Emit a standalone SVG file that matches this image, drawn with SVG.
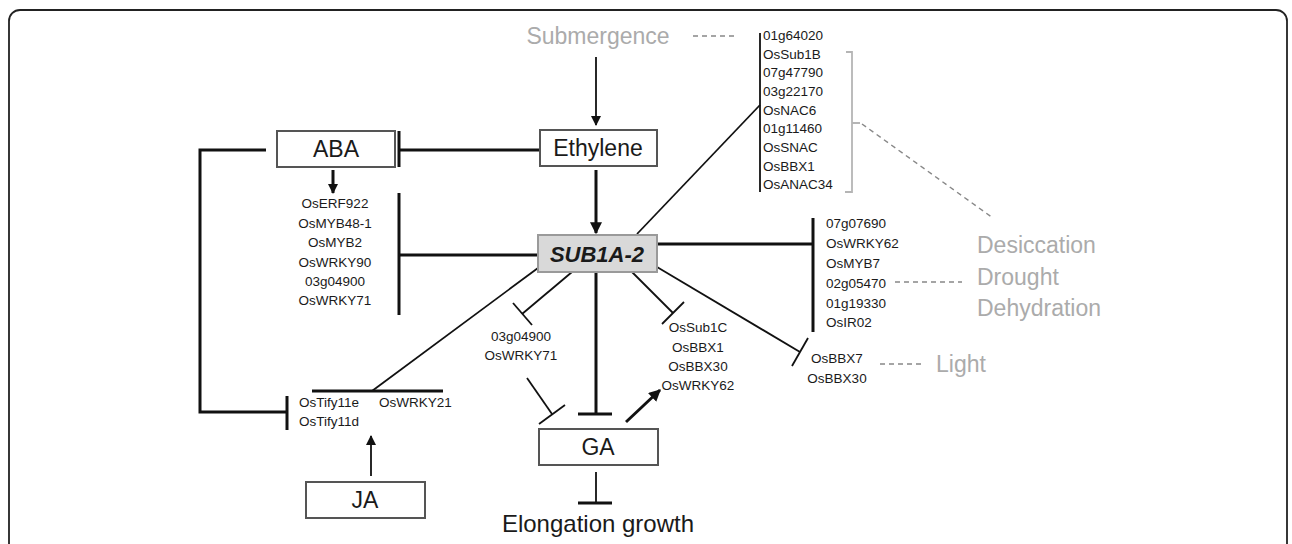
<svg xmlns="http://www.w3.org/2000/svg" width="1292" height="544" viewBox="0 0 1292 544">
<defs>
<style>
text{font-family:"Liberation Sans",Arial,sans-serif;fill:#1a1a1a}
.big{font-size:23px}
.gene{font-size:13.5px}
.grey{fill:#ababab;font-size:23px}
.box{fill:#fff;stroke:#555;stroke-width:2}
.thick{stroke:#111;stroke-width:3;fill:none}
.thin{stroke:#111;stroke-width:1.8;fill:none}
.dash{stroke:#888;stroke-width:1.4;stroke-dasharray:5 4;fill:none}
.br{stroke:#b5b5b5;stroke-width:1.8;fill:none}
</style>
<marker id="ah" viewBox="0 0 10 10" refX="9" refY="5" markerWidth="10" markerHeight="10" markerUnits="userSpaceOnUse" orient="auto">
<path d="M0 0 L10 5 L0 10 Z" fill="#111"/>
</marker>
<marker id="ah2" viewBox="0 0 10 10" refX="9" refY="5" markerWidth="12" markerHeight="12" markerUnits="userSpaceOnUse" orient="auto">
<path d="M0 0 L10 5 L0 10 Z" fill="#111"/>
</marker>
</defs>
<rect x="9" y="10" width="1278" height="580" rx="11" fill="#fff" stroke="#222" stroke-width="1.8"/>

<g id="connectors">
<line class="thin" x1="596" y1="57" x2="596" y2="125" marker-end="url(#ah)"/>
<line class="thick" x1="596" y1="170" x2="596" y2="233" marker-end="url(#ah2)"/>
<line class="thick" x1="540" y1="150" x2="400" y2="150"/>
<line class="thick" x1="399" y1="131" x2="399" y2="167"/>
<path class="thick" d="M266 150 H200 V412 H287"/>
<line class="thick" x1="287" y1="396" x2="287" y2="430"/>
<line class="thick" x1="333" y1="170" x2="333" y2="193" marker-end="url(#ah)"/>
<line class="thick" x1="399" y1="193" x2="399" y2="315"/>
<line class="thick" x1="399" y1="255" x2="538" y2="255"/>
<line class="thick" x1="657" y1="244" x2="813" y2="244"/>
<line class="thick" x1="813" y1="218" x2="813" y2="332"/>
<line class="thin" x1="637" y1="234" x2="760" y2="105"/>
<line class="thin" x1="760" y1="33" x2="760" y2="192"/>
<path class="br" d="M846 52 H852 V192 H845 M852 123 H860"/>
<line class="dash" x1="862" y1="124" x2="993" y2="218"/>
<line class="dash" x1="693" y1="36" x2="738" y2="36"/>
<line class="dash" x1="895" y1="282" x2="962" y2="282"/>
<line class="dash" x1="880" y1="364" x2="925" y2="364"/>
<line class="thin" x1="657" y1="267" x2="800" y2="352"/>
<line class="thin" x1="808" y1="338" x2="792" y2="366"/>
<line class="thin" x1="632" y1="272" x2="673" y2="313"/>
<line class="thin" x1="684" y1="302" x2="662" y2="324"/>
<line class="thin" x1="572" y1="272" x2="522" y2="314"/>
<line class="thin" x1="532" y1="325" x2="513" y2="303"/>
<line class="thin" x1="527" y1="378" x2="552" y2="414"/>
<line class="thin" x1="565" y1="405" x2="539" y2="424"/>
<line class="thick" x1="596" y1="272" x2="596" y2="414"/>
<line class="thick" x1="578" y1="414" x2="612" y2="414"/>
<line class="thick" x1="626" y1="422" x2="660" y2="390" marker-end="url(#ah2)"/>
<line class="thin" x1="596" y1="472" x2="596" y2="503"/>
<line class="thick" x1="578" y1="503" x2="612" y2="503"/>
<line class="thin" x1="538" y1="268" x2="372" y2="391"/>
<line class="thick" x1="312" y1="391" x2="443" y2="391"/>
<line class="thin" x1="371" y1="476" x2="371" y2="436" marker-end="url(#ah)"/>
</g>

<g id="submergence"><text class="grey" x="598" y="44" text-anchor="middle">Submergence</text></g>
<g id="ethylene"><rect class="box" x="540" y="130" width="117" height="36"/><text class="big" x="598" y="156" text-anchor="middle">Ethylene</text></g>
<g id="aba"><rect class="box" x="277" y="131" width="118" height="36"/><text class="big" x="336" y="157" text-anchor="middle">ABA</text></g>
<g id="sub1a"><rect x="538" y="235" width="119" height="37" fill="#d9d9d9" stroke="#9a9a9a" stroke-width="2"/><text x="597" y="262" text-anchor="middle" font-size="22" font-weight="bold" font-style="italic">SUB1A-2</text></g>
<g id="ga"><rect class="box" x="539" y="429" width="119" height="36"/><text class="big" x="598" y="455" text-anchor="middle">GA</text></g>
<g id="ja"><rect class="box" x="306" y="482" width="119" height="36"/><text class="big" x="365" y="508" text-anchor="middle">JA</text></g>
<g id="elongation"><text x="598" y="532" text-anchor="middle" font-size="24">Elongation growth</text></g>

<g id="top-genes" class="gene">
<text class="gene" x="763" y="40">01g64020</text>
<text class="gene" x="763" y="58.7">OsSub1B</text>
<text class="gene" x="763" y="77.4">07g47790</text>
<text class="gene" x="763" y="96">03g22170</text>
<text class="gene" x="763" y="114.7">OsNAC6</text>
<text class="gene" x="763" y="133.4">01g11460</text>
<text class="gene" x="763" y="152">OsSNAC</text>
<text class="gene" x="763" y="170.7">OsBBX1</text>
<text class="gene" x="763" y="189.4">OsANAC34</text>
</g>
<g id="aba-genes">
<text class="gene" x="335" y="208" text-anchor="middle">OsERF922</text>
<text class="gene" x="335" y="228" text-anchor="middle">OsMYB48-1</text>
<text class="gene" x="335" y="247" text-anchor="middle">OsMYB2</text>
<text class="gene" x="335" y="267" text-anchor="middle">OsWRKY90</text>
<text class="gene" x="335" y="286" text-anchor="middle">03g04900</text>
<text class="gene" x="335" y="305" text-anchor="middle">OsWRKY71</text>
</g>
<g id="right-genes">
<text class="gene" x="826" y="228">07g07690</text>
<text class="gene" x="826" y="248">OsWRKY62</text>
<text class="gene" x="826" y="268">OsMYB7</text>
<text class="gene" x="826" y="288">02g05470</text>
<text class="gene" x="826" y="308">01g19330</text>
<text class="gene" x="826" y="327">OsIR02</text>
</g>
<g id="stress"><text class="grey" x="977" y="253">Desiccation</text><text class="grey" x="977" y="285">Drought</text><text class="grey" x="977" y="316">Dehydration</text></g>
<g id="bbx7"><text class="gene" x="837" y="363" text-anchor="middle">OsBBX7</text><text class="gene" x="837" y="383" text-anchor="middle">OsBBX30</text></g>
<g id="light"><text class="grey" x="936" y="372">Light</text></g>
<g id="sub1c">
<text class="gene" x="698" y="332" text-anchor="middle">OsSub1C</text>
<text class="gene" x="698" y="352" text-anchor="middle">OsBBX1</text>
<text class="gene" x="698" y="371" text-anchor="middle">OsBBX30</text>
<text class="gene" x="698" y="390" text-anchor="middle">OsWRKY62</text>
</g>
<g id="wrky71"><text class="gene" x="521" y="341" text-anchor="middle">03g04900</text><text class="gene" x="521" y="360" text-anchor="middle">OsWRKY71</text></g>
<g id="tify"><text class="gene" x="299" y="407">OsTify11e</text><text class="gene" x="299" y="426">OsTify11d</text><text class="gene" x="379" y="407">OsWRKY21</text></g>
</svg>
